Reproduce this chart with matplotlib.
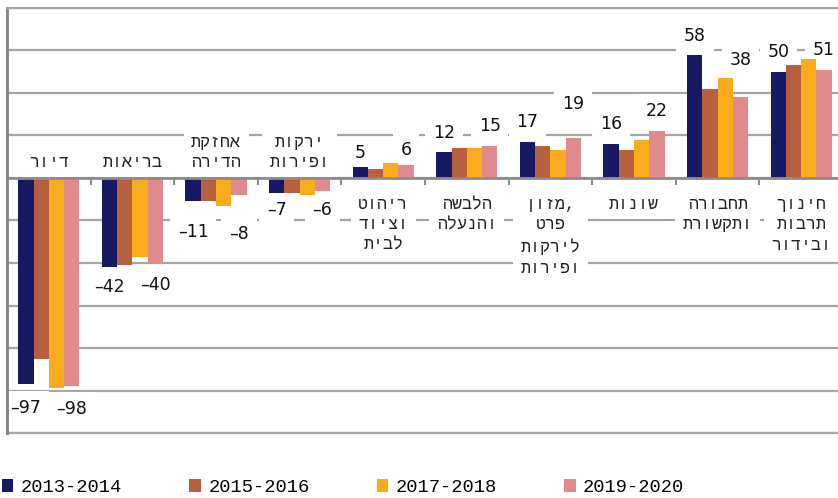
import matplotlib
matplotlib.use('Agg')
import matplotlib.pyplot as plt
import numpy as np
from matplotlib.patches import Patch

# data
categories = ['דיור', 'בריאות', 'אחזקת\nהדירה', 'ירקות\nופירות',
              'ריהוט\nוציוד\nלבית', 'הלבשה\nוהנעלה',
              'מזון,\nפרט\nלירקות\nופירות', 'שונות',
              'תחבורה\nותקשורת', 'חינוך\nתרבות\nובידור']
years = ['2013-2014', '2015-2016', '2017-2018', '2019-2020']
v2013 = [-97, -42, -11, -7, 5, 12, 17, 16, 58, 50]
v2015 = [-85, -41, -11, -7, 4, 14, 15, 13, 42, 53]
v2017 = [-99, -37, -13, -8, 7, 14, 13, 18, 47, 56]
v2019 = [-98, -40, -8, -6, 6, 15, 19, 22, 38, 51]

colors = ['#171A62', '#B6603F', '#F8AC1C', '#E08A8E']

# distance (px) of the value labels from the bar end
off_first = [24, 20, 31, 17, 14, 20, 20, 20, 19, 20]
off_last = [23, 22, 39, 19, 15, 20, 34, 20, 37, 20]


# matplotlib has no bidi: flip the hebrew letters of each line,
# trailing punctuation stays on the right
def heb(s):
    out = []
    for line in s.split('\n'):
        tail = ''
        while line and line[-1] in ',.':
            tail = line[-1] + tail
            line = line[:-1]
        out.append(line[::-1] + tail)
    return '\n'.join(out)


fig = plt.figure(figsize=(8.38, 4.98), dpi=100)
ax = fig.add_axes([7/838, 65/498, 836/838, 425/498])

index = np.arange(len(categories))
bar_width = 0.1825
series = [v2013, v2015, v2017, v2019]
for k, vals in enumerate(series):
    ax.bar(index + (k - 1.5)*bar_width, vals, bar_width, color=colors[k],
           zorder=3)

ax.set_xlim(-0.5, len(categories) - 0.5)
ax.set_ylim(-120, 80)
ax.set_yticks(np.arange(-120, 81, 20))
ax.set_yticklabels([])
ax.tick_params(axis='y', length=0)
ax.yaxis.grid(True, color='#a5a5a5', lw=1.6, zorder=0)

# zero axis with small ticks between categories
ax.spines['bottom'].set_position(('data', 0))
ax.spines['bottom'].set_color('#8c8c8c')
ax.spines['bottom'].set_linewidth(2)
ax.spines['bottom'].set_zorder(4)
ax.set_xticks([])
ax.set_xticks(index[:-1] + 0.5, minor=True)
ax.tick_params(axis='x', which='minor', length=5, width=1.5, color='#8c8c8c',
               direction='out')
ax.spines['left'].set_color('#808080')
ax.spines['left'].set_linewidth(2)
ax.spines['top'].set_color('#a5a5a5')
ax.spines['top'].set_linewidth(1.6)
ax.spines['right'].set_visible(False)
ax.axhline(-120, color='#a5a5a5', lw=1.6, zorder=0, clip_on=False)

box = dict(facecolor='white', edgecolor='none', boxstyle='square,pad=0.45')
heb_font = ['Liberation Mono', 'DejaVu Sans']

# category labels on the other side of the zero line
for i, name in enumerate(categories):
    if v2013[i] < 0:
        ax.annotate(heb(name), (i, 0), xytext=(0, 8*0.72),
                    textcoords='offset points', ha='center', va='bottom',
                    multialignment='center', fontsize=12, linespacing=1.45,
                    family=heb_font, color='#222222', bbox=box, zorder=2.5)
    else:
        ax.annotate(heb(name), (i, 0), xytext=(0, -19*0.72),
                    textcoords='offset points', ha='center', va='top',
                    multialignment='center', fontsize=12, linespacing=1.45,
                    family=heb_font, color='#222222', bbox=box, zorder=2.5)


# value labels for first and last period
def lab(x, v, off):
    sign = 1 if v >= 0 else -1
    txt = ('%d' % v).replace('-', '–')
    ax.annotate(txt, (x, v), xytext=(0, sign*off*0.72), textcoords='offset points',
                ha='center', va='center', fontsize=12.5, color='#111111',
                bbox=box, zorder=2.5)


for i in index:
    lab(i - 1.5*bar_width, v2013[i], off_first[i])
    lab(i + 1.5*bar_width, v2019[i], off_last[i])

handles = [Patch(facecolor=c, edgecolor='none') for c in colors]
fig.legend(handles, years, loc='lower left', bbox_to_anchor=(0.0, 0.0),
           ncol=4, frameon=False, borderpad=0.1, borderaxespad=0,
           handlelength=0.6, handleheight=0.65, handletextpad=0.4,
           columnspacing=3.6, prop={'family': 'Liberation Mono', 'size': 13.5})

plt.savefig('out.png', dpi=100)
